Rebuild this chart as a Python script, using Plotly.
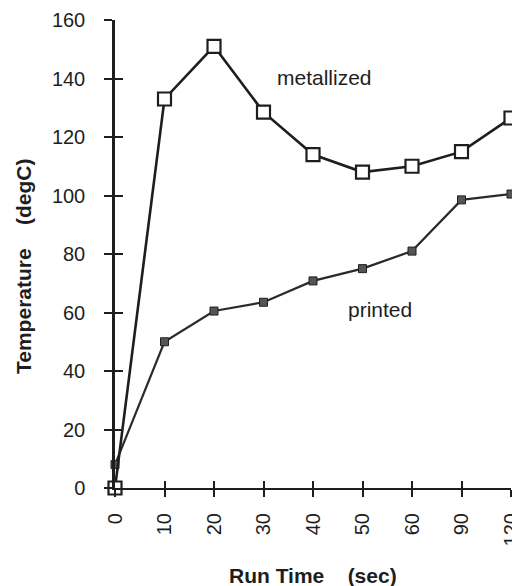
import plotly.graph_objects as go

run_time = ["0", "10", "20", "30", "40", "50", "60", "90", "120"]
metallized = [0, 133, 151, 128.5, 114, 108, 110, 115, 126.5]
printed = [8, 50, 60.5, 63.5, 70.8, 75, 81, 98.5, 100.5]
y_ticks = [0, 20, 40, 60, 80, 100, 120, 140, 160]

pos = list(range(len(run_time)))
ink = "#1e1e1e"
font = "Liberation Sans, Arial, Helvetica, sans-serif"

fig = go.Figure()
fig.add_trace(go.Scatter(
    x=pos, y=printed, mode="lines+markers", name="printed",
    line=dict(color="#2a2a2a", width=2.2),
    marker=dict(symbol="square", size=8, color="#555555", line=dict(color=ink, width=1)),
    cliponaxis=False, showlegend=False))
fig.add_trace(go.Scatter(
    x=pos, y=metallized, mode="lines+markers", name="metallized",
    line=dict(color=ink, width=2.6),
    marker=dict(symbol="square", size=13, color="white", line=dict(color=ink, width=2.2)),
    cliponaxis=False, showlegend=False))

# page body has an 8px margin, so the figure is sized/margined to compensate
fig.update_layout(
    width=512, height=578,
    margin=dict(l=107, r=9, t=12, b=98, autoexpand=False),
    paper_bgcolor="white", plot_bgcolor="white",
    font=dict(family=font, color=ink),
    xaxis=dict(range=[0, 8], tickvals=pos, ticktext=run_time, tickangle=-90,
               automargin=False, ticklabeloverflow="allow",
               showgrid=False, zeroline=False, showline=True, linecolor=ink, linewidth=2,
               ticks="outside", ticklen=7, tickwidth=2, tickcolor=ink,
               tickfont=dict(size=20, color=ink), ticklabelstandoff=8),
    yaxis=dict(range=[0, 160], tickvals=y_ticks, automargin=False,
               ticklabeloverflow="allow",
               showgrid=False, zeroline=False, showline=True, linecolor=ink, linewidth=2.5,
               ticks="outside", ticklen=8, tickwidth=2, tickcolor=ink,
               tickfont=dict(size=20, color=ink), ticklabelstandoff=15),
    xaxis2=dict(range=[0, 8], overlaying="x", tickvals=pos, showticklabels=False,
                automargin=False,
                showgrid=False, zeroline=False, showline=False,
                ticks="inside", ticklen=7, tickwidth=2, tickcolor=ink),
    yaxis2=dict(range=[0, 160], overlaying="y", tickvals=y_ticks, showticklabels=False,
                automargin=False,
                showgrid=False, zeroline=False, showline=False,
                ticks="inside", ticklen=8, tickwidth=2, tickcolor=ink),
    annotations=[
        dict(x=4.24, y=140.5, xref="x", yref="y", text="metallized", showarrow=False,
             font=dict(size=21, color=ink)),
        dict(x=5.35, y=60.9, xref="x", yref="y", text="printed", showarrow=False,
             font=dict(size=21, color=ink)),
        dict(x=(313 - 115) / 396, y=-(575 - 488) / 468, xref="paper", yref="paper",
             xanchor="center", yanchor="middle",
             text="<b>Run Time\u00a0\u00a0\u00a0\u00a0(sec)</b>", showarrow=False,
             font=dict(size=21, color=ink)),
        dict(x=(23 - 115) / 396, y=(488 - 267) / 468, xref="paper", yref="paper",
             xanchor="center", yanchor="middle",
             text="<b>Temperature\u00a0\u00a0\u00a0\u00a0(degC)</b>", showarrow=False,
             textangle=-90, font=dict(size=21, color=ink)),
    ],
)
# invisible trace to activate overlay axes (inner halves of the crossing ticks)
fig.add_trace(go.Scatter(x=[0], y=[0], xaxis="x2", yaxis="y2", mode="markers",
                         marker=dict(opacity=0), showlegend=False, hoverinfo="skip"))

fig.write_html("out.html")
